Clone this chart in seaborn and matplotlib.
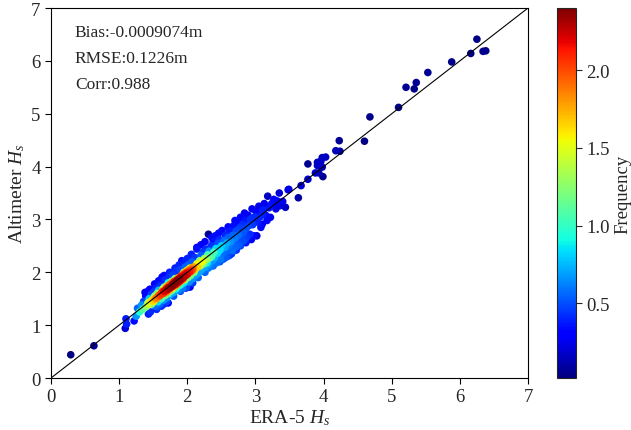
import numpy as np
import pandas as pd
import seaborn as sns
import matplotlib.pyplot as plt
from matplotlib.colors import Normalize
from matplotlib.cm import ScalarMappable

# ERA-5 significant wave height (x) and altimeter Hs (y)
era5_hs = [
    0.29, 0.63,
    1.09, 1.10, 1.11, 1.22, 1.25, 1.27, 1.30,
    1.33, 1.35, 1.36, 1.38, 1.39, 1.40, 1.42, 1.44,
    1.46, 1.47, 1.48, 1.49, 1.50, 1.51, 1.52, 1.53, 1.54, 1.55,
    1.56, 1.57, 1.58, 1.59, 1.60, 1.60, 1.61, 1.62, 1.63, 1.63, 1.64, 1.65, 1.65,
    1.66, 1.67, 1.67, 1.68, 1.69, 1.70, 1.70, 1.71, 1.72, 1.72, 1.73, 1.74, 1.74, 1.75, 1.75,
    1.76, 1.77, 1.77, 1.78, 1.79, 1.79, 1.80, 1.80, 1.81, 1.82, 1.82, 1.83, 1.84, 1.84, 1.85, 1.85,
    1.86, 1.87, 1.87, 1.88, 1.89, 1.90, 1.90, 1.91, 1.92, 1.92, 1.93, 1.93, 1.94, 1.95, 1.95,
    1.96, 1.97, 1.97, 1.98, 1.99, 2.00, 2.00, 2.01, 2.02, 2.03, 2.03, 2.04, 2.05,
    2.06, 2.07, 2.08, 2.09, 2.10, 2.11, 2.12, 2.13, 2.14, 2.14, 2.15, 2.17, 2.18, 2.19, 2.20,
    2.21, 2.22, 2.23, 2.24, 2.25, 2.26, 2.27, 2.28, 2.29, 2.30, 2.31, 2.32, 2.33, 2.34, 2.35,
    2.36, 2.37, 2.38, 2.39, 2.40, 2.41, 2.42, 2.43, 2.44, 2.45, 2.46, 2.47, 2.48, 2.49, 2.50,
    2.51, 2.52, 2.53, 2.54, 2.55, 2.56, 2.57, 2.58, 2.59, 2.60, 2.61, 2.62, 2.63, 2.64, 2.65,
    2.66, 2.67, 2.68, 2.69, 2.70, 2.71, 2.72, 2.73, 2.74, 2.75, 2.76, 2.77, 2.78, 2.78, 2.79,
    2.81, 2.82, 2.83, 2.85, 2.86, 2.87, 2.89, 2.90, 2.92, 2.93, 2.95, 2.96, 2.98, 2.99,
    3.01, 3.03, 3.05, 3.07, 3.08, 3.10, 3.11, 3.13, 3.15, 3.18, 3.20, 3.22, 3.24,
    3.27, 3.30, 3.32, 3.35, 3.36, 3.40, 3.44, 3.48,
    3.63, 3.67, 3.77, 3.77, 3.88, 3.93, 3.99, 3.91, 3.91, 3.96, 3.98, 4.03, 3.98,
    4.18, 4.24, 4.23, 4.60, 4.68, 5.10, 5.21, 5.33, 5.36, 5.53, 5.88, 6.16, 6.25, 6.34, 6.38,
    # dense core near the 1:1 line
    1.62, 1.64, 1.66, 1.68, 1.69, 1.71, 1.72, 1.73, 1.75, 1.76, 1.77, 1.78, 1.79, 1.80,
    1.81, 1.82, 1.83, 1.84, 1.85, 1.86, 1.87, 1.88, 1.89, 1.90, 1.91, 1.92, 1.93, 1.94,
    1.95, 1.96, 1.97, 1.98, 1.99, 2.00, 2.01, 2.02, 2.03, 2.05, 2.06, 2.08,
    1.70, 1.74, 1.78, 1.82, 1.86, 1.90, 1.94, 1.98,
    1.60, 1.58, 1.55, 1.53, 1.50, 1.48, 1.45, 1.43,
    # scattered edge points
    1.43, 1.43, 1.56, 1.66, 1.72, 1.97, 2.04, 2.14, 2.31, 2.56, 2.31,
    3.17, 2.93, 3.02, 3.29, 3.49, 3.10,
    1.45, 1.52, 1.58, 1.66, 1.74, 1.82, 1.88, 2.00, 2.06, 2.20, 2.26, 2.36, 2.46, 2.60,
    2.70, 2.84,
    1.55, 1.62, 1.70, 1.80, 1.90, 1.98, 2.08, 2.16, 2.26, 2.38, 2.48, 2.62, 2.72, 2.86,
    2.94,
]
altimeter_hs = [
    0.44, 0.61,
    0.94, 1.12, 1.02, 1.08, 1.17, 1.32, 1.25,
    1.38, 1.30, 1.45, 1.62, 1.55, 1.35, 1.42, 1.50,
    1.25, 1.58, 1.40, 1.48, 1.62, 1.45, 1.55, 1.36, 1.70, 1.52,
    1.60, 1.44, 1.66, 1.55, 1.40, 1.75, 1.58, 1.50, 1.91, 1.64, 1.68, 1.47, 1.60,
    1.72, 1.56, 1.85, 1.66, 1.62, 1.74, 1.52, 1.69, 1.80, 1.60, 1.71, 1.66, 1.92, 1.77, 1.58,
    1.72, 1.83, 1.65, 1.76, 1.70, 1.95, 1.78, 1.62, 1.82, 1.74, 1.88, 1.68, 1.79, 2.02, 1.84, 1.72,
    1.78, 1.90, 1.66, 1.82, 1.87, 1.76, 2.05, 1.92, 1.84, 2.22, 1.70, 1.96, 1.88, 2.00, 1.80,
    1.93, 2.10, 1.86, 1.98, 1.72, 1.96, 2.04, 1.90, 2.15, 2.00, 1.82, 2.08, 1.94,
    2.02, 2.20, 1.88, 2.10, 2.00, 2.28, 2.06, 1.95, 2.44, 2.16, 2.10, 2.00, 2.22, 2.12, 2.32,
    2.05, 2.20, 2.38, 2.16, 2.26, 2.10, 2.44, 2.24, 2.18, 2.33, 2.08, 2.40, 2.27, 2.12, 2.50,
    2.30, 2.22, 2.58, 2.38, 2.28, 2.69, 2.45, 2.18, 2.36, 2.55, 2.30, 2.62, 2.42, 2.25, 2.50,
    2.79, 2.35, 2.25, 2.60, 2.47, 2.70, 2.40, 2.55, 2.30, 2.66, 2.50, 2.78, 2.42, 2.58, 2.35,
    2.41, 2.70, 2.88, 2.55, 2.64, 2.48, 2.78, 2.60, 2.95, 2.70, 2.52, 2.84, 2.50, 3.04, 2.68,
    2.90, 2.75, 2.60, 2.98, 2.82, 2.66, 3.08, 2.88, 2.72, 3.00, 3.20, 2.90, 2.69, 3.05,
    3.15, 2.95, 3.25, 3.05, 2.85, 2.91, 3.18, 3.30, 3.08, 3.44, 3.22, 3.04, 3.30,
    3.38, 3.20, 3.35, 3.50, 3.26, 3.34, 3.23, 3.56,
    3.41, 3.64, 3.76, 4.05, 3.88, 3.88, 3.81, 4.08, 4.02, 4.10, 4.17, 4.18, 3.99,
    4.30, 4.29, 4.49, 4.48, 4.94, 5.12, 5.50, 5.47, 5.59, 5.78, 5.98, 6.14, 6.41, 6.18, 6.19,
    # dense core near the 1:1 line
    1.60, 1.63, 1.64, 1.65, 1.70, 1.72, 1.68, 1.75, 1.72, 1.78, 1.74, 1.80, 1.77, 1.82,
    1.76, 1.80, 1.84, 1.82, 1.78, 1.86, 1.83, 1.88, 1.84, 1.90, 1.86, 1.93, 1.89, 1.95,
    1.92, 1.98, 1.94, 2.01, 1.97, 2.00, 1.98, 2.04, 2.01, 2.03, 2.07, 2.05,
    1.66, 1.70, 1.73, 1.77, 1.81, 1.85, 1.90, 1.94,
    1.57, 1.56, 1.50, 1.50, 1.46, 1.47, 1.44, 1.40,
    # scattered edge points
    1.65, 1.21, 1.34, 1.40, 1.42, 2.21, 1.72, 2.47, 2.72, 2.28, 2.15,
    2.98, 3.01, 2.69, 3.29, 3.57, 3.10,
    1.68, 1.78, 1.84, 1.94, 2.00, 2.08, 2.14, 2.26, 2.34, 2.52, 2.58, 2.66, 2.74, 2.86,
    2.98, 3.12,
    1.30, 1.36, 1.45, 1.55, 1.64, 1.70, 1.80, 1.90, 2.00, 2.12, 2.20, 2.32, 2.42, 2.56,
    2.62,
]

stats_text = ["Bias:-0.0009074m", "RMSE:0.1226m", "Corr:0.988"]
ticks = [0, 1, 2, 3, 4, 5, 6, 7]
cbar_ticks = [0.5, 1.0, 1.5, 2.0]
cbar_range = (0.02, 2.4)

df = pd.DataFrame({"era5": era5_hs, "alt": altimeter_hs})

# gaussian kde for point density
pts = df[["era5", "alt"]].to_numpy().T
bw = 0.34
cov = np.cov(pts) * bw ** 2
inv = np.linalg.inv(cov)
norm_c = 1.0 / (2 * np.pi * np.sqrt(np.linalg.det(cov)))
diff = pts[:, :, None] - pts[:, None, :]
q = np.einsum("ij,ikl,jkl->kl", inv, diff, diff)
df["density"] = norm_c * np.exp(-0.5 * q).mean(axis=1)
df = df.sort_values("density")

sns.set_style("ticks")
plt.rcParams["font.family"] = ["Liberation Serif", "DejaVu Serif"]
plt.rcParams["mathtext.fontset"] = "custom"
plt.rcParams["mathtext.rm"] = "Liberation Serif"
plt.rcParams["mathtext.it"] = "Liberation Serif:italic"

fig = plt.figure(figsize=(6.31, 4.31), dpi=100)
ax = fig.add_axes([0.0808, 0.1206, 0.7560, 0.8585])
cax = fig.add_axes([0.8827, 0.1206, 0.0301, 0.8585])

jet = plt.get_cmap("jet")
norm = Normalize(vmin=cbar_range[0], vmax=cbar_range[1], clip=True)
sns.scatterplot(data=df, x="era5", y="alt", hue="density", palette=jet,
                hue_norm=norm, s=30, linewidth=0, legend=False, ax=ax)
ax.plot([0, 7], [0, 7], color="black", lw=0.8)

ax.set_xlim(0, 7)
ax.set_ylim(0, 7)
ax.set_xticks(ticks)
ax.set_yticks(ticks)
ax.tick_params(labelsize=13.5, direction="out", length=4, color="black")
for sp in ax.spines.values():
    sp.set_color("black")
    sp.set_linewidth(0.8)
ax.set_xlabel("ERA-5 $H_s$", fontsize=14, labelpad=1)
ax.set_ylabel("Altimeter $H_s$", fontsize=14, labelpad=3)

for i, t in enumerate(stats_text):
    ax.text(0.05, 0.935 - 0.07 * i, t, transform=ax.transAxes, fontsize=12.5,
            va="center", ha="left")

cb = fig.colorbar(ScalarMappable(norm=norm, cmap=jet), cax=cax)
cb.set_ticks(cbar_ticks)
cb.ax.tick_params(labelsize=13.5, length=4)
cb.outline.set_linewidth(0.8)
cb.set_label("Frequency", fontsize=13.5, labelpad=3)

fig.savefig("out.png", dpi=100)
